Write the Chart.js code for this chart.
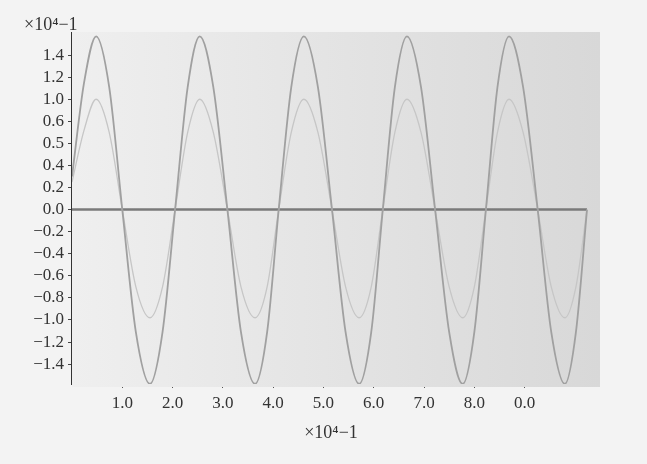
<!DOCTYPE html>
<html lang="en">
<head>
    <meta charset="UTF-8">
    <title>Sine curves</title>
    <script src="https://cdn.jsdelivr.net/npm/chart.js"></script>
    <style>
        html, body { margin: 0; padding: 0; background: #f3f3f3; }
        #wrap { width: 647px; height: 464px; }
    </style>
</head>
<body>
    <div id="wrap"><canvas id="chart" width="647" height="464"></canvas></div>

    <script>
        // values (x in axis units, y in tick-position units)
        const xPoints = [0, 0.24, 0.48, 0.74, 1.0, 1.27, 1.55, 1.80, 2.05, 2.30, 2.54, 2.81, 3.09, 3.36, 3.64, 3.88,
            4.11, 4.36, 4.61, 4.89, 5.17, 5.44, 5.71, 5.95, 6.18, 6.42, 6.66, 6.94, 7.22, 7.50, 7.77, 8.00,
            8.23, 8.46, 8.69, 8.97, 9.26, 9.53, 9.80, 10.02, 10.24];
        const bigWave = [0.3, 1.15, 1.57, 1.11, 0, -1.11, -1.58, -1.11, 0, 1.11, 1.57, 1.11, 0, -1.11, -1.58, -1.11,
            0, 1.11, 1.57, 1.11, 0, -1.11, -1.58, -1.11, 0, 1.11, 1.57, 1.11, 0, -1.11, -1.58, -1.11,
            0, 1.11, 1.57, 1.11, 0, -1.11, -1.58, -1.11, 0];
        const smallWave = [0.25, 0.72, 1.0, 0.7, 0, -0.7, -0.98, -0.7, 0, 0.7, 1.0, 0.7, 0, -0.7, -0.98, -0.7,
            0, 0.7, 1.0, 0.7, 0, -0.7, -0.98, -0.7, 0, 0.7, 1.0, 0.7, 0, -0.7, -0.98, -0.7,
            0, 0.7, 1.0, 0.7, 0, -0.7, -0.98, -0.7, 0];
        const zeroLineX = [0, 10.24];
        const zeroLineY = [0, 0];

        const xTickPos = [1, 2, 3, 4, 5, 6, 7, 8, 9];
        const xTickLabels = ['1.0', '2.0', '3.0', '4.0', '5.0', '6.0', '7.0', '8.0', '0.0'];
        const yTickPos = [1.4, 1.2, 1.0, 0.8, 0.6, 0.4, 0.2, 0, -0.2, -0.4, -0.6, -0.8, -1.0, -1.2, -1.4];
        const yTickLabels = ['1.4', '1.2', '1.0', '0.6', '0.5', '0.4', '0.2', '0.0', '−0.2', '−0.4', '−0.6',
            '−0.8', '−1.0', '−1.2', '−1.4'];
        const axisTitle = '×10⁴−1';

        const toPoints = (xs, ys) => xs.map((x, i) => ({ x: x, y: ys[i] }));
        const tickFont = { family: "'Liberation Serif', serif", size: 17 };

        // gray plot panel behind the curves, plus the y title above the axis
        const panel = {
            id: 'panel',
            beforeDatasetsDraw(chart) {
                const { ctx, chartArea: a } = chart;
                const g = ctx.createLinearGradient(a.left, 0, a.right + 10, 0);
                g.addColorStop(0, '#efefef');
                g.addColorStop(1, '#d8d8d8');
                ctx.save();
                ctx.fillStyle = g;
                ctx.fillRect(a.left, a.top - 1, a.right - a.left + 10, a.bottom - a.top + 4);
                ctx.restore();
            },
            afterDraw(chart) {
                const { ctx, chartArea: a } = chart;
                ctx.save();
                ctx.fillStyle = '#333';
                ctx.font = "18px 'Liberation Serif', serif";
                ctx.textBaseline = 'middle';
                ctx.fillText(axisTitle, a.left - 48, a.top - 8);
                ctx.restore();
            }
        };

        new Chart(document.getElementById('chart'), {
            type: 'line',
            data: {
                datasets: [
                    {
                        data: toPoints(xPoints, bigWave),
                        borderColor: '#a0a0a0',
                        borderWidth: 1.8,
                        cubicInterpolationMode: 'monotone',
                        pointRadius: 0
                    },
                    {
                        data: toPoints(xPoints, smallWave),
                        borderColor: '#c6c6c6',
                        borderWidth: 1.3,
                        cubicInterpolationMode: 'monotone',
                        pointRadius: 0
                    },
                    {
                        data: toPoints(zeroLineX, zeroLineY),
                        borderColor: '#7a7a7a',
                        borderWidth: 2.5,
                        pointRadius: 0
                    }
                ]
            },
            options: {
                responsive: false,
                animation: false,
                layout: { padding: { top: 33, right: 57, left: 0, bottom: 0 } },
                plugins: {
                    legend: { display: false },
                    tooltip: { enabled: false }
                },
                scales: {
                    x: {
                        type: 'linear',
                        min: 0,
                        max: 10.3,
                        afterFit: s => { s.height = 80; },
                        afterBuildTicks: s => { s.ticks = xTickPos.map(v => ({ value: v })); },
                        border: { display: true, color: '#555', width: 2 },
                        grid: { drawOnChartArea: false, drawTicks: true, tickLength: 4, color: '#555' },
                        ticks: {
                            color: '#333',
                            font: tickFont,
                            padding: 5,
                            maxRotation: 0,
                            autoSkip: false,
                            callback: (v, i) => xTickLabels[i]
                        },
                        title: {
                            display: true,
                            text: axisTitle,
                            color: '#333',
                            font: { family: "'Liberation Serif', serif", size: 18 },
                            padding: { top: 4, bottom: 20 }
                        }
                    },
                    y: {
                        type: 'linear',
                        min: -1.58,
                        max: 1.6,
                        afterFit: s => { s.width = 72; },
                        afterBuildTicks: s => { s.ticks = yTickPos.map(v => ({ value: v })); },
                        border: { display: true, color: '#333', width: 2.5 },
                        grid: { drawOnChartArea: false, drawTicks: true, tickLength: 4, color: '#444' },
                        ticks: {
                            color: '#333',
                            font: tickFont,
                            padding: 4,
                            autoSkip: false,
                            callback: (v, i) => yTickLabels[i]
                        }
                    }
                }
            },
            plugins: [panel]
        });
    </script>
</body>
</html>
